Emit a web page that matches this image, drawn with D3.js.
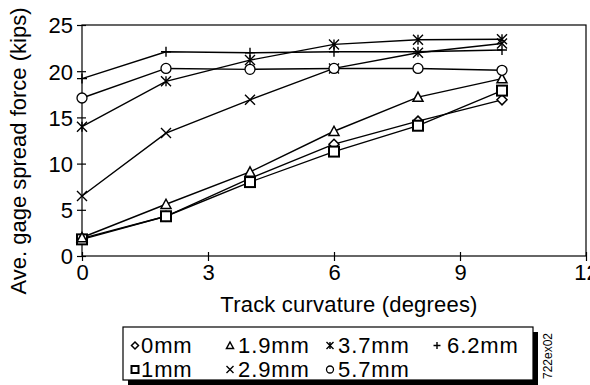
<!DOCTYPE html>
<html>
<head>
<meta charset="utf-8">
<script src="https://cdn.jsdelivr.net/npm/d3@7"></script>
<style>
  body { margin: 0; background: #fff; }
  text { font-family: "Liberation Sans", Arial, sans-serif; fill: #000; }
</style>
</head>
<body>
<svg width="590" height="385"></svg>
<script>
// data
const curvature = [0, 2, 4, 6, 8, 10];
const s0mm   = [1.9, 4.3, 8.4, 12.1, 14.6, 16.9];
const s1mm   = [1.8, 4.3, 8.0, 11.3, 14.1, 17.9];
const s19mm  = [2.0, 5.6, 9.1, 13.5, 17.2, 19.2];
const s29mm  = [6.5, 13.3, 16.9, 20.3, 22.0, 23.0];
const s37mm  = [14.0, 18.9, 21.2, 22.9, 23.4, 23.45];
const s57mm  = [17.1, 20.3, 20.2, 20.3, 20.3, 20.1];
const s62mm  = [19.2, 22.1, 22.0, 22.1, 22.1, 22.3];
const xTicks = [0, 3, 6, 9, 12];
const yTicks = [0, 5, 10, 15, 20, 25];

const series = [
  { name: '0mm',   values: s0mm,  mark: 'diamond' },
  { name: '1mm',   values: s1mm,  mark: 'square' },
  { name: '1.9mm', values: s19mm, mark: 'triangle' },
  { name: '2.9mm', values: s29mm, mark: 'x' },
  { name: '3.7mm', values: s37mm, mark: 'star' },
  { name: '5.7mm', values: s57mm, mark: 'circle' },
  { name: '6.2mm', values: s62mm, mark: 'plus' }
];

const svg = d3.select('svg');
const pL = 82, pR = 586, pT = 25, pB = 256;

const x = d3.scaleLinear().domain([0, 12]).range([pL, pR]);
const y = d3.scaleLinear().domain([0, 25]).range([pB, pT]);

// frame
svg.append('rect')
  .attr('x', pL).attr('y', pT)
  .attr('width', pR - pL).attr('height', pB - pT)
  .attr('fill', 'none').attr('stroke', '#000').attr('stroke-width', 1.2);

// axes, ticks crossing the line
const xAxis = svg.append('g')
  .attr('transform', `translate(0,${pB})`)
  .call(d3.axisBottom(x).tickValues(xTicks).tickSize(0).tickPadding(8));
xAxis.select('.domain').remove();
xAxis.selectAll('.tick line').attr('y1', -4).attr('y2', 5).attr('stroke-width', 1.2);
xAxis.selectAll('.tick text').style('font-size', '22px').attr('dy', '0.71em');

const yAxis = svg.append('g')
  .attr('transform', `translate(${pL},0)`)
  .call(d3.axisLeft(y).tickValues(yTicks).tickSize(0).tickPadding(9));
yAxis.select('.domain').remove();
yAxis.selectAll('.tick line').attr('x1', -5).attr('x2', 4).attr('stroke-width', 1.2);
yAxis.selectAll('.tick text').style('font-size', '22px').attr('dy', '0.36em');

// axis titles
svg.append('text')
  .attr('x', 349).attr('y', 312)
  .attr('text-anchor', 'middle')
  .style('font-size', '22px')
  .style('letter-spacing', '0.2px')
  .text('Track curvature (degrees)');

svg.append('text')
  .attr('transform', 'translate(26,151) rotate(-90)')
  .attr('text-anchor', 'middle')
  .style('font-size', '22px')
  .text('Ave. gage spread force (kips)');

// marker drawing
function drawMark(g, kind, s) {
  const h = s / 2;
  if (kind === 'diamond') {
    g.append('path').attr('d', `M0,${-h}L${h},0L0,${h}L${-h},0Z`)
      .attr('fill', '#fff').attr('stroke', '#000').attr('stroke-width', 1.5);
  } else if (kind === 'square') {
    g.append('rect').attr('x', -h).attr('y', -h).attr('width', s).attr('height', s)
      .attr('fill', '#fff').attr('stroke', '#000').attr('stroke-width', 2);
  } else if (kind === 'triangle') {
    g.append('path').attr('d', `M0,${-h}L${h},${h * 0.85}L${-h},${h * 0.85}Z`)
      .attr('fill', '#fff').attr('stroke', '#000').attr('stroke-width', 1.5);
  } else if (kind === 'circle') {
    g.append('circle').attr('r', h)
      .attr('fill', '#fff').attr('stroke', '#000').attr('stroke-width', 1.3);
  } else if (kind === 'x') {
    g.append('path').attr('d', `M${-h},${-h}L${h},${h}M${h},${-h}L${-h},${h}`)
      .attr('stroke', '#000').attr('stroke-width', 1.4);
  } else if (kind === 'star') {
    g.append('path').attr('d', `M${-h},${-h}L${h},${h}M${h},${-h}L${-h},${h}M0,${-h}L0,${h}`)
      .attr('stroke', '#000').attr('stroke-width', 1.4);
  } else if (kind === 'plus') {
    g.append('path').attr('d', `M${-h},0L${h},0M0,${-h}L0,${h}`)
      .attr('stroke', '#000').attr('stroke-width', 1.4);
  }
}

const line = d3.line().x((d, i) => x(curvature[i])).y(d => y(d));

series.forEach(s => {
  svg.append('path')
    .datum(s.values)
    .attr('d', line)
    .attr('fill', 'none')
    .attr('stroke', '#000')
    .attr('stroke-width', 1.4);
});

series.forEach(s => {
  s.values.forEach((v, i) => {
    const g = svg.append('g').attr('transform', `translate(${x(curvature[i])},${y(v)})`);
    drawMark(g, s.mark, 10);
  });
});

// legend
const lg = svg.append('g');
lg.append('rect').attr('x', 128).attr('y', 332).attr('width', 410).attr('height', 53).attr('fill', '#000');
lg.append('rect').attr('x', 123).attr('y', 327).attr('width', 410).attr('height', 53)
  .attr('fill', '#fff').attr('stroke', '#000').attr('stroke-width', 1.2);

const legendPos = [
  { s: 0, col: 0, row: 0 }, { s: 2, col: 1, row: 0 }, { s: 4, col: 2, row: 0 }, { s: 6, col: 3, row: 0 },
  { s: 1, col: 0, row: 1 }, { s: 3, col: 1, row: 1 }, { s: 5, col: 2, row: 1 }
];
const colX = [135, 230, 330, 437];
const txtX = [141, 238, 338, 447];
legendPos.forEach(p => {
  const s = series[p.s];
  const base = 353 + p.row * 24;
  const g = lg.append('g').attr('transform', `translate(${colX[p.col]},${base - 7.5})`);
  drawMark(g, s.mark, 7);
  lg.append('text')
    .attr('x', txtX[p.col]).attr('y', base)
    .style('font-size', '22px')
    .style('letter-spacing', '0.9px')
    .text(s.name);
});

svg.append('text')
  .attr('transform', 'translate(552,356) rotate(-90)')
  .attr('text-anchor', 'middle')
  .style('font-size', '12px')
  .text('722ex02');
</script>
</body>
</html>
